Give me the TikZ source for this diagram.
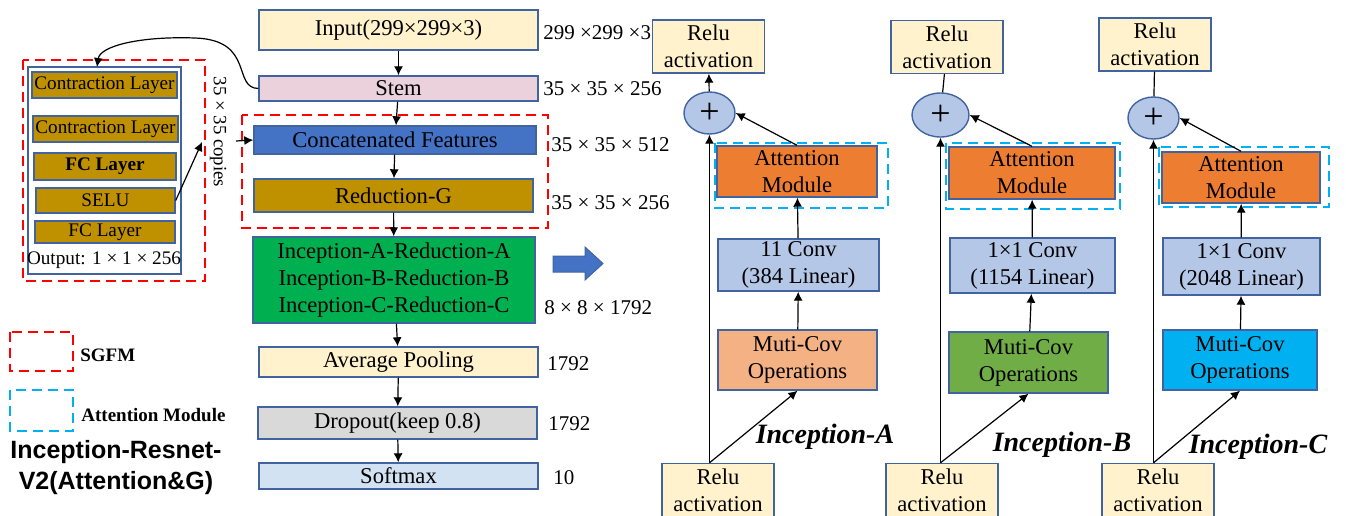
\documentclass[tikz,border=0pt]{standalone}
\usepackage{fontspec}
\setmainfont{Liberation Serif}
\setsansfont{Liberation Sans}
\usetikzlibrary{arrows.meta, shapes.geometric}

\definecolor{edgeblue}{RGB}{65,100,160}
\definecolor{cream}{HTML}{FFF2CC}
\definecolor{stempink}{HTML}{EAD1DC}
\definecolor{featblue}{HTML}{4472C4}
\definecolor{gold}{HTML}{BF9000}
\definecolor{incgreen}{HTML}{00B050}
\definecolor{dropgray}{HTML}{D9D9D9}
\definecolor{softblue}{HTML}{D2E2F3}
\definecolor{attorange}{HTML}{ED7D31}
\definecolor{convblue}{HTML}{B4C7E7}
\definecolor{mutiorange}{HTML}{F4B183}
\definecolor{mutigreen}{HTML}{70AD47}
\definecolor{muticyan}{HTML}{00B0F0}

\begin{document}
\begin{tikzpicture}[x=0.5pt, y=-0.5pt,
    >={Latex[length=4.5pt,width=4.5pt]},
    conn/.style={->, line width=0.6pt},
    blk/.style={draw=edgeblue, line width=0.7pt, inner sep=0pt, align=center,
        font=\fontsize{11.3}{13.5}\selectfont},
    mainbox/.style={blk, minimum width=139.5pt},
    layer/.style={blk, fill=gold, font=\fontsize{9.6}{11}\selectfont},
    dim/.style={anchor=west, inner sep=0pt, font=\fontsize{10.5}{12}\selectfont},
    sgfm/.style={draw=red, dash pattern=on 5pt off 3pt, line width=1.2pt},
    attn/.style={draw=muticyan, dash pattern=on 5pt off 3pt, line width=1.2pt},
    relu/.style={blk, fill=cream, minimum width=56pt, minimum height=26.5pt},
    plus/.style={ellipse, draw=edgeblue, fill=convblue, line width=0.7pt, inner sep=0pt,
        font=\fontsize{18}{18}\selectfont},
    inclab/.style={font=\fontsize{14}{16}\selectfont\bfseries\itshape},
    legend/.style={anchor=west, inner sep=0pt, font=\fontsize{9.5}{11}\selectfont\bfseries}
]
    \useasboundingbox (0,0) rectangle (1346,515);

    % SGFM detail
    \draw[sgfm] (23,60) rectangle (205,281);
    \draw[edgeblue, line width=0.7pt] (28,67) rectangle (181,274);
    \node[layer, minimum width=72.5pt, minimum height=13pt] (cl1) at (104.5,85) {Contraction Layer};
    \node[layer, minimum width=72.5pt, minimum height=13pt] (cl2) at (105.5,129) {Contraction Layer};
    \node[layer, minimum width=71pt, minimum height=13.5pt, font=\fontsize{9.6}{11}\selectfont\bfseries] (fc1) at (105,166.5) {FC Layer};
    \node[layer, minimum width=69.5pt, minimum height=12.5pt] (selu) at (105.5,200.5) {SELU};
    \node[layer, minimum width=70pt, minimum height=11pt] (fc2) at (105,232) {FC Layer};
    \node[font=\fontsize{9.6}{11}\selectfont, inner sep=0pt] (outp) at (104,260) {Output: 1 × 1 × 256};
    \node[rotate=-90, font=\fontsize{9.4}{11}\selectfont, inner sep=0pt] (copies) at (218,132) {35 × 35 copies};
    \coordinate (cptip) at (202,142);
    \coordinate (sgtop) at (97,67);
    \coordinate (cfin) at (236,141);

    % main column
    \node[mainbox, fill=cream, minimum height=20pt] (input) at (398.5,30) {Input(299×299×3)};
    \node[mainbox, fill=stempink, minimum height=12.5pt] (stem) at (398.5,88.5) {Stem};
    \node[blk, fill=featblue, minimum width=141pt, minimum height=14pt] (cf) at (395,140) {Concatenated Features};
    \node[mainbox, fill=gold, minimum height=16.5pt] (redg) at (393.5,195.5) {Reduction-G};
    \node[blk, fill=incgreen, minimum width=141pt, minimum height=43pt] (incep) at (394,280)
        {Inception-A-Reduction-A\\Inception-B-Reduction-B\\Inception-C-Reduction-C};
    \node[mainbox, fill=cream, minimum height=15pt] (avg) at (398.5,362) {Average Pooling};
    \node[mainbox, fill=dropgray, minimum height=16pt] (drop) at (397.5,423) {Dropout(keep 0.8)};
    \node[mainbox, fill=softblue, minimum height=13pt] (soft) at (398.5,476) {Softmax};
    \draw[sgfm] (242,115) rectangle (548,228);

    \node[dim] (d1) at (543,33) {299 ×299 ×3};
    \node[dim] (d2) at (543,89) {35 × 35 × 256};
    \node[dim] (d3) at (551,145) {35 × 35 × 512};
    \node[dim] (d4) at (551,203) {35 × 35 × 256};
    \node[dim] (d5) at (544,308) {8 × 8 × 1792};
    \node[dim] (d6) at (547,364) {1792};
    \node[dim] (d7) at (548,424) {1792};
    \node[dim] (d8) at (553,478) {10};

    \draw[conn] (input) -- (stem);
    \draw[conn] (stem) -- (cf);
    \draw[conn] (cf) -- (redg);
    \draw[conn] (redg) -- (incep);
    \draw[conn] (incep) -- (avg);
    \draw[conn] (avg) -- (drop);
    \draw[conn] (drop) -- (soft);
    \draw[conn] (stem.west) .. controls (232,88) and (255,40) .. (195,38)
        .. controls (140,36) and (100,46) .. (sgtop);
    \draw[conn] (selu.east) -- (cptip);
    \draw[conn] (cfin) -- (cf.west);

    % block arrow
    \draw[fill=featblue, draw=edgeblue, line width=0.5pt] (553,256) -- (585,256) -- (585,247)
        -- (603,263.5) -- (585,280) -- (585,272) -- (553,272) -- cycle;

    % legend
    \draw[sgfm] (10,332) rectangle (73,371);
    \node[legend] (lg1) at (80,355) {SGFM};
    \draw[attn] (10,390) rectangle (73,431);
    \node[legend] (lg2) at (81,415) {Attention Module};
    \node[align=center, font=\sffamily\bfseries\fontsize{12.5}{15.5}\selectfont] (title) at (116,468)
        {Inception-Resnet-\\V2(Attention\&G)};

    % Inception-A
    \node[relu] (reluTA) at (708.5,46.5) {Relu\\activation};
    \node[plus, minimum width=25.5pt, minimum height=21pt] (plusA) at (709.5,113) {+};
    \node[blk, fill=attorange, minimum width=80pt, minimum height=25.5pt] (attA) at (797,171.5) {Attention\\Module};
    \draw[attn] (715,143) rectangle (888,208);
    \node[blk, fill=convblue, minimum width=80.5pt, minimum height=26pt] (convA) at (798.5,265) {11 Conv\\(384 Linear)};
    \node[blk, fill=mutiorange, minimum width=79.5pt, minimum height=30pt] (mutiA) at (797.5,360) {Muti-Cov\\Operations};
    \node[relu] (reluBA) at (718,490) {Relu\\activation};
    \node[inclab] (labA) at (825,437) {Inception-A};
    \draw[conn] (reluBA.north -| plusA.south) -- (plusA.south);
    \draw[conn] (reluBA.north -| plusA.south) -- (mutiA.south);
    \draw[conn] (mutiA) -- (convA);
    \draw[conn] (convA) -- (attA);
    \draw[conn] (attA.north) -- (plusA.east);
    \draw[conn] (plusA) -- (reluTA);

    % Inception-B
    \node[relu] (reluTB) at (947,47) {Relu\\activation};
    \node[plus, minimum width=28.5pt, minimum height=22pt] (plusB) at (940.5,115) {+};
    \node[blk, fill=attorange, minimum width=83pt, minimum height=26pt] (attB) at (1032,173) {Attention\\Module};
    \draw[attn] (946,143) rectangle (1120,209);
    \node[blk, fill=convblue, minimum width=82.5pt, minimum height=27.5pt] (convB) at (1032.5,265.5) {1×1 Conv\\(1154 Linear)};
    \node[blk, fill=mutigreen, minimum width=79.5pt, minimum height=30.5pt] (mutiB) at (1028.5,362.5) {Muti-Cov\\Operations};
    \node[relu] (reluBB) at (942,490) {Relu\\activation};
    \node[inclab] (labB) at (1062,445) {Inception-B};
    \draw[conn] (reluBB.north -| plusB.south) -- (plusB.south);
    \draw[conn] (reluBB.north -| plusB.south) -- (mutiB.south);
    \draw[conn] (mutiB) -- (convB);
    \draw[conn] (convB) -- (attB);
    \draw[conn] (attB.north) -- (plusB.east);
    \draw[line width=0.6pt] (plusB) -- (reluTB);

    % Inception-C
    \node[relu] (reluTC) at (1155,44.5) {Relu\\activation};
    \node[plus, minimum width=25.5pt, minimum height=21pt] (plusC) at (1153.5,118) {+};
    \node[blk, fill=attorange, minimum width=79pt, minimum height=25.5pt] (attC) at (1241,177.5) {Attention\\Module};
    \draw[attn] (1159,147) rectangle (1329,207);
    \node[blk, fill=convblue, minimum width=78.5pt, minimum height=28.5pt] (convC) at (1241.5,266.5) {1×1 Conv\\(2048 Linear)};
    \node[blk, fill=muticyan, minimum width=77pt, minimum height=30pt] (mutiC) at (1240,360) {Muti-Cov\\Operations};
    \node[relu] (reluBC) at (1158,490) {Relu\\activation};
    \node[inclab] (labC) at (1258,447) {Inception-C};
    \draw[conn] (reluBC.north -| plusC.south) -- (plusC.south);
    \draw[conn] (reluBC.north -| plusC.south) -- (mutiC.south);
    \draw[conn] (mutiC) -- (convC);
    \draw[conn] (convC) -- (attC);
    \draw[conn] (attC.north) -- (plusC.east);
    \draw[line width=0.6pt] (plusC) -- (reluTC);
\end{tikzpicture}
\end{document}
